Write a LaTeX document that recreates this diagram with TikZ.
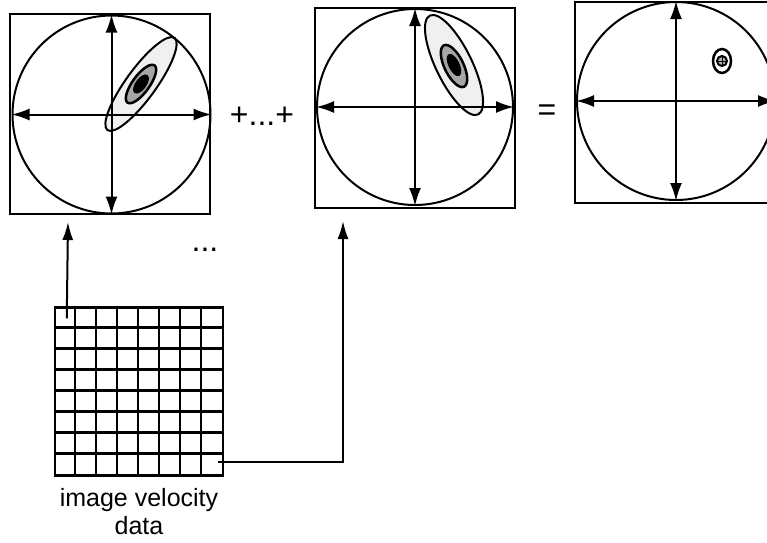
\documentclass[tikz,border=0pt]{standalone}
\usepackage{fontspec}
\setmainfont{Liberation Sans}
\usetikzlibrary{arrows.meta, positioning, calc}
\tikzset{
  every picture/.style={line width=2pt},
  panel/.style={draw, minimum size=#1, inner sep=0pt},
  disk/.style={draw, circle, minimum size=#1, inner sep=0pt},
  axis/.style={{Latex[length=18pt,width=12pt]}-{Latex[length=18pt,width=12pt]}},
  arrow/.style={-{Latex[length=18pt,width=11pt]}},
  sym/.style={font=\fontsize{32}{32}\selectfont, inner sep=0pt},
}

\begin{document}
\begin{tikzpicture}[x=1pt, y=-1pt,
  outer/.style={draw, fill=black!6},
  mid/.style={draw, line width=2.5pt, fill=black!35},
  core/.style={fill=black},
  cell/.style={line width=2.5pt}]
  \clip (0,0) rectangle (767,542);
  % first sample
  \node[panel=200pt] (p1) at (110,114) {};
  \draw[outer, shift={(141,84)}, rotate=54] (0,0) ellipse [x radius=57, y radius=15];
  \draw[mid, shift={(141,84)}, rotate=54] (0,0) ellipse [x radius=23, y radius=8.5];
  \draw[core, shift={(141,84)}, rotate=54] (0,0) ellipse [x radius=10, y radius=4.5];
  \node[disk=198pt] (c1) at (111.5,114.5) {};
  \draw[axis] (c1.north) -- (c1.south);
  \draw[axis] (c1.west) -- (c1.east);
  % last sample
  \node[panel=200pt] (p2) at (414.5,108) {};
  \draw[outer, shift={(454,65)}, rotate=116] (0,0) ellipse [x radius=55, y radius=18];
  \draw[mid, shift={(454,66)}, rotate=116] (0,0) ellipse [x radius=23, y radius=9.5];
  \draw[core, shift={(454,65)}, rotate=116] (0,0) ellipse [x radius=11, y radius=4.5];
  \node[disk=196pt] (c2) at (415,107) {};
  \draw[axis] (c2.north) -- (c2.south);
  \draw[axis] (c2.west) -- (c2.east);
  % sum
  \node[panel=201pt] (p3) at (675.5,102.5) {};
  \node[disk=198pt] (c3) at (676,101) {};
  \draw[axis] (c3.north) -- (c3.south);
  \draw[axis] (c3.west) -- (c3.east);
  \draw[line width=2.5pt] (722,61) ellipse [x radius=9, y radius=12];
  \draw[fill=black!30] (722,61) circle [radius=5];
  \draw[line width=1pt] (717,61) -- (727,61) (722,56) -- (722,66);
  \node[sym] (plus) at (262,116) {+...+};
  \node[sym] (eq) at (547,113) {=};
  \node[sym] (dots) at (205,250) {...};
  % image data
  \node[draw, cell, minimum width=168pt, minimum height=168pt, inner sep=0pt] (g) at (139,391.5) {};
  \foreach \i in {1,...,7} {
    \draw[cell] ($(g.north west)+(\i*21,0)$) -- ($(g.south west)+(\i*21,0)$);
    \draw[cell] ($(g.north west)+(0,\i*21)$) -- ($(g.north east)+(0,\i*21)$);
  }
  \node[below=11pt of g, align=center, inner sep=0pt, font=\fontsize{25}{28}\selectfont] (lbl) {image velocity\\data};
  \coordinate (t1) at ($(g.north west)+(13,12)$);
  \coordinate (h1) at (68,222);
  \coordinate (t2) at ($(g.south east)+(-6,-15)$);
  \coordinate (h2) at (343,221);
  \draw[arrow] (t1) -- (h1);
  \draw[arrow] (t2) -| (h2);
\end{tikzpicture}
\end{document}
